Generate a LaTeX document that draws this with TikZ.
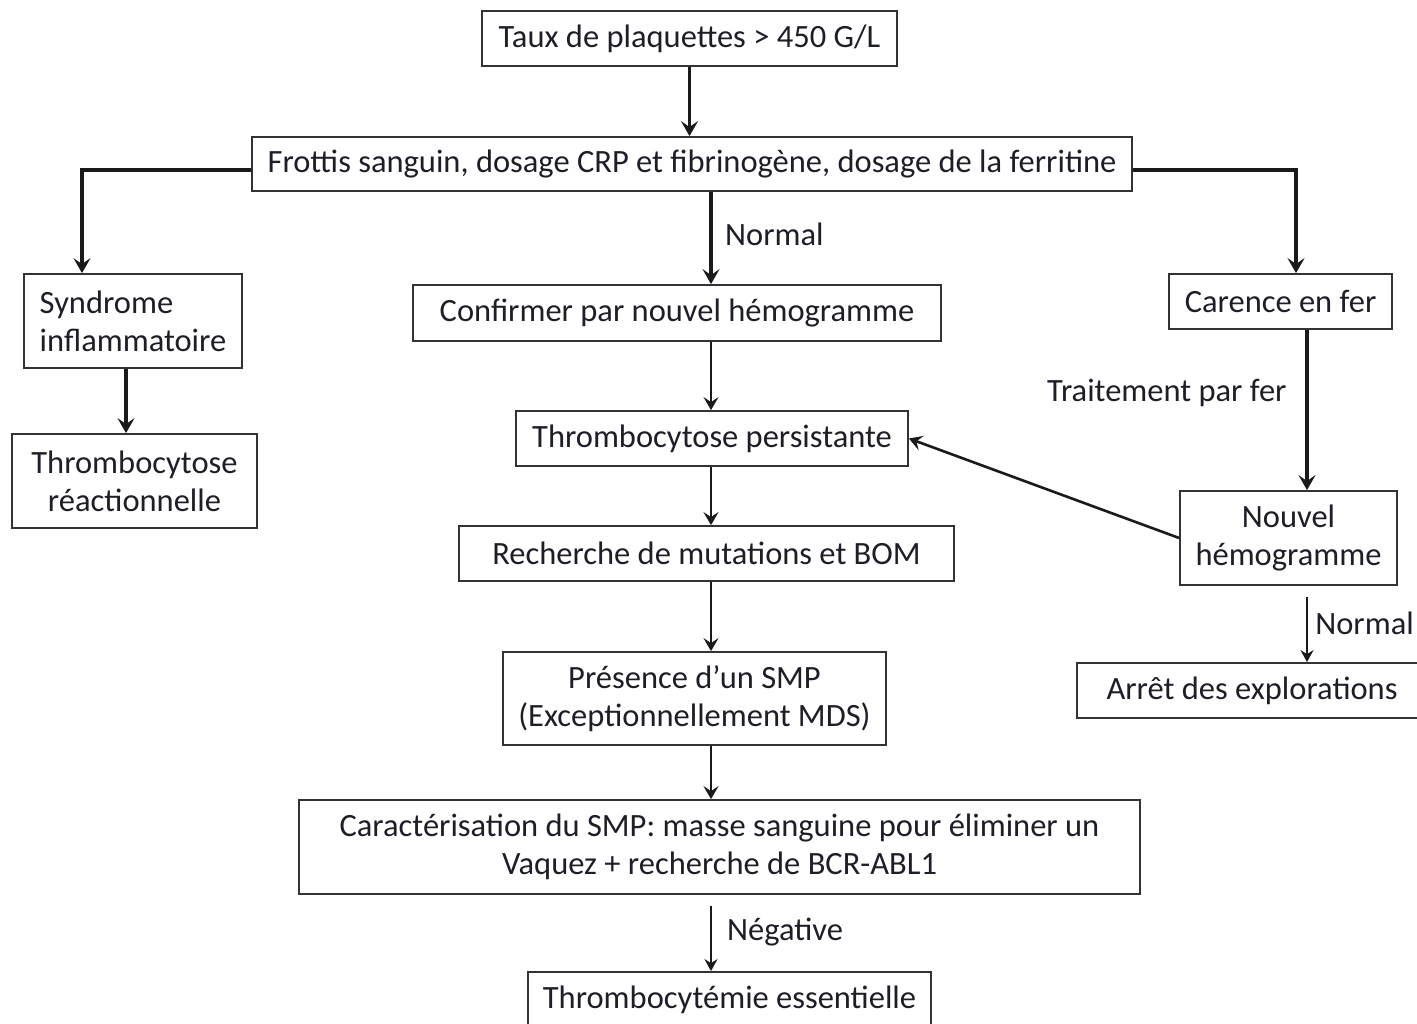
\documentclass[tikz,border=0pt]{standalone}
\usepackage{fontspec}
\setmainfont{Carlito}
\usetikzlibrary{arrows.meta}
\definecolor{txt}{HTML}{1E1E28}
\definecolor{boxc}{HTML}{333333}
\definecolor{arr}{HTML}{1A1A1A}
\begin{document}
\begin{tikzpicture}[x=1pt,y=-1pt,
  box/.style={draw=boxc, line width=1.8pt, inner sep=0pt, align=center,
    font=\fontsize{32.5}{38}\selectfont, text=txt},
  lbl/.style={inner sep=0pt, anchor=west, font=\fontsize{32.5}{38}\selectfont, text=txt},
  bigarrow/.style={draw=arr, line width=3.6pt, -{Stealth[length=15pt,width=17pt,inset=6pt]}},
  midarrow/.style={draw=arr, line width=2.6pt, -{Stealth[length=13pt,width=15pt,inset=5pt]}},
  thinarrow/.style={draw=arr, line width=2pt, -{Stealth[length=12pt,width=13pt,inset=4pt]}}
]
\useasboundingbox (0,0) rectangle (1417,1024);
\clip (0,0) rectangle (1417,1024);
\fill[white] (0,0) rectangle (1417,1024);

\coordinate (cx) at (711,0);
\coordinate (lx) at (82,0);
\coordinate (rx) at (1296,0);
\coordinate (sx) at (126,0);
\coordinate (fx) at (1307,0);
\coordinate (branch) at (0,170);

\node[box, minimum width=415pt, minimum height=55pt] (taux) at (689.5,38.5) {Taux de plaquettes > 450 G/L};
\node[box, minimum width=880pt, minimum height=54pt] (frottis) at (692,164) {Frottis sanguin, dosage CRP et fibrinogène, dosage de la ferritine};
\node[box, minimum width=218pt, minimum height=94pt, align=left] (synd) at (133,321) {Syndrome\\inflammatoire};
\node[box, minimum width=245pt, minimum height=94pt] (reac) at (134.5,481) {Thrombocytose\\réactionnelle};
\node[box, minimum width=528pt, minimum height=56pt] (confirm) at (677,313) {Confirmer par nouvel hémogramme};
\node[box, minimum width=392pt, minimum height=55pt] (persist) at (712,438.5) {Thrombocytose persistante};
\node[box, minimum width=495pt, minimum height=55pt] (rech) at (706.5,553.5) {Recherche de mutations et BOM};
\node[box, minimum width=383pt, minimum height=93pt] (pres) at (694.5,698.5) {Présence d’un SMP\\(Exceptionnellement MDS)};
\node[box, minimum width=841pt, minimum height=94pt] (carac) at (719.5,847) {Caractérisation du SMP: masse sanguine pour éliminer un\\Vaquez + recherche de BCR-ABL1};
\node[box, minimum width=403pt, minimum height=55pt] (te) at (729.5,999.5) {Thrombocytémie essentielle};
\node[box, minimum width=223pt, minimum height=55pt] (carence) at (1280.5,301.5) {Carence en fer};
\node[box, minimum width=217pt, minimum height=94pt] (nouvel) at (1288.5,538) {Nouvel\\hémogramme};
\node[box, minimum width=350pt, minimum height=55pt] (arret) at (1252,690.5) {Arrêt des explorations};

\node[lbl] (lnormal) at (725,234) {Normal};
\node[lbl] (ltrait) at (1047,393) {Traitement par fer};
\node[lbl] (lneg) at (727,932) {Négative};
\node[lbl, anchor=east] (lnormal2) at (1414,623) {Normal};

\draw[bigarrow] (taux.south) -- (taux.south |- frottis.north);
\draw[bigarrow] (frottis.west |- branch) -| (lx |- synd.north);
\draw[bigarrow] (frottis.east |- branch) -| (rx |- carence.north);
\draw[bigarrow] (frottis.south -| cx) -- (confirm.north -| cx);
\draw[bigarrow] (synd.south -| sx) -- (reac.north -| sx);
\draw[bigarrow] (carence.south -| fx) -- (nouvel.north -| fx);
\draw[midarrow] (confirm.south -| cx) -- (persist.north -| cx);
\draw[midarrow] (persist.south -| cx) -- (rech.north -| cx);
\draw[midarrow] (rech.south -| cx) -- (pres.north -| cx);
\draw[midarrow] (pres.south -| cx) -- (carac.north -| cx);
\draw[thinarrow] ([yshift=-11pt]carac.south -| cx) -- (te.north -| cx);
\draw[thinarrow] ([yshift=-11pt]nouvel.south -| fx) -- (arret.north -| fx);
\draw[midarrow] (nouvel.west) -- (persist.east);
\end{tikzpicture}
\end{document}
